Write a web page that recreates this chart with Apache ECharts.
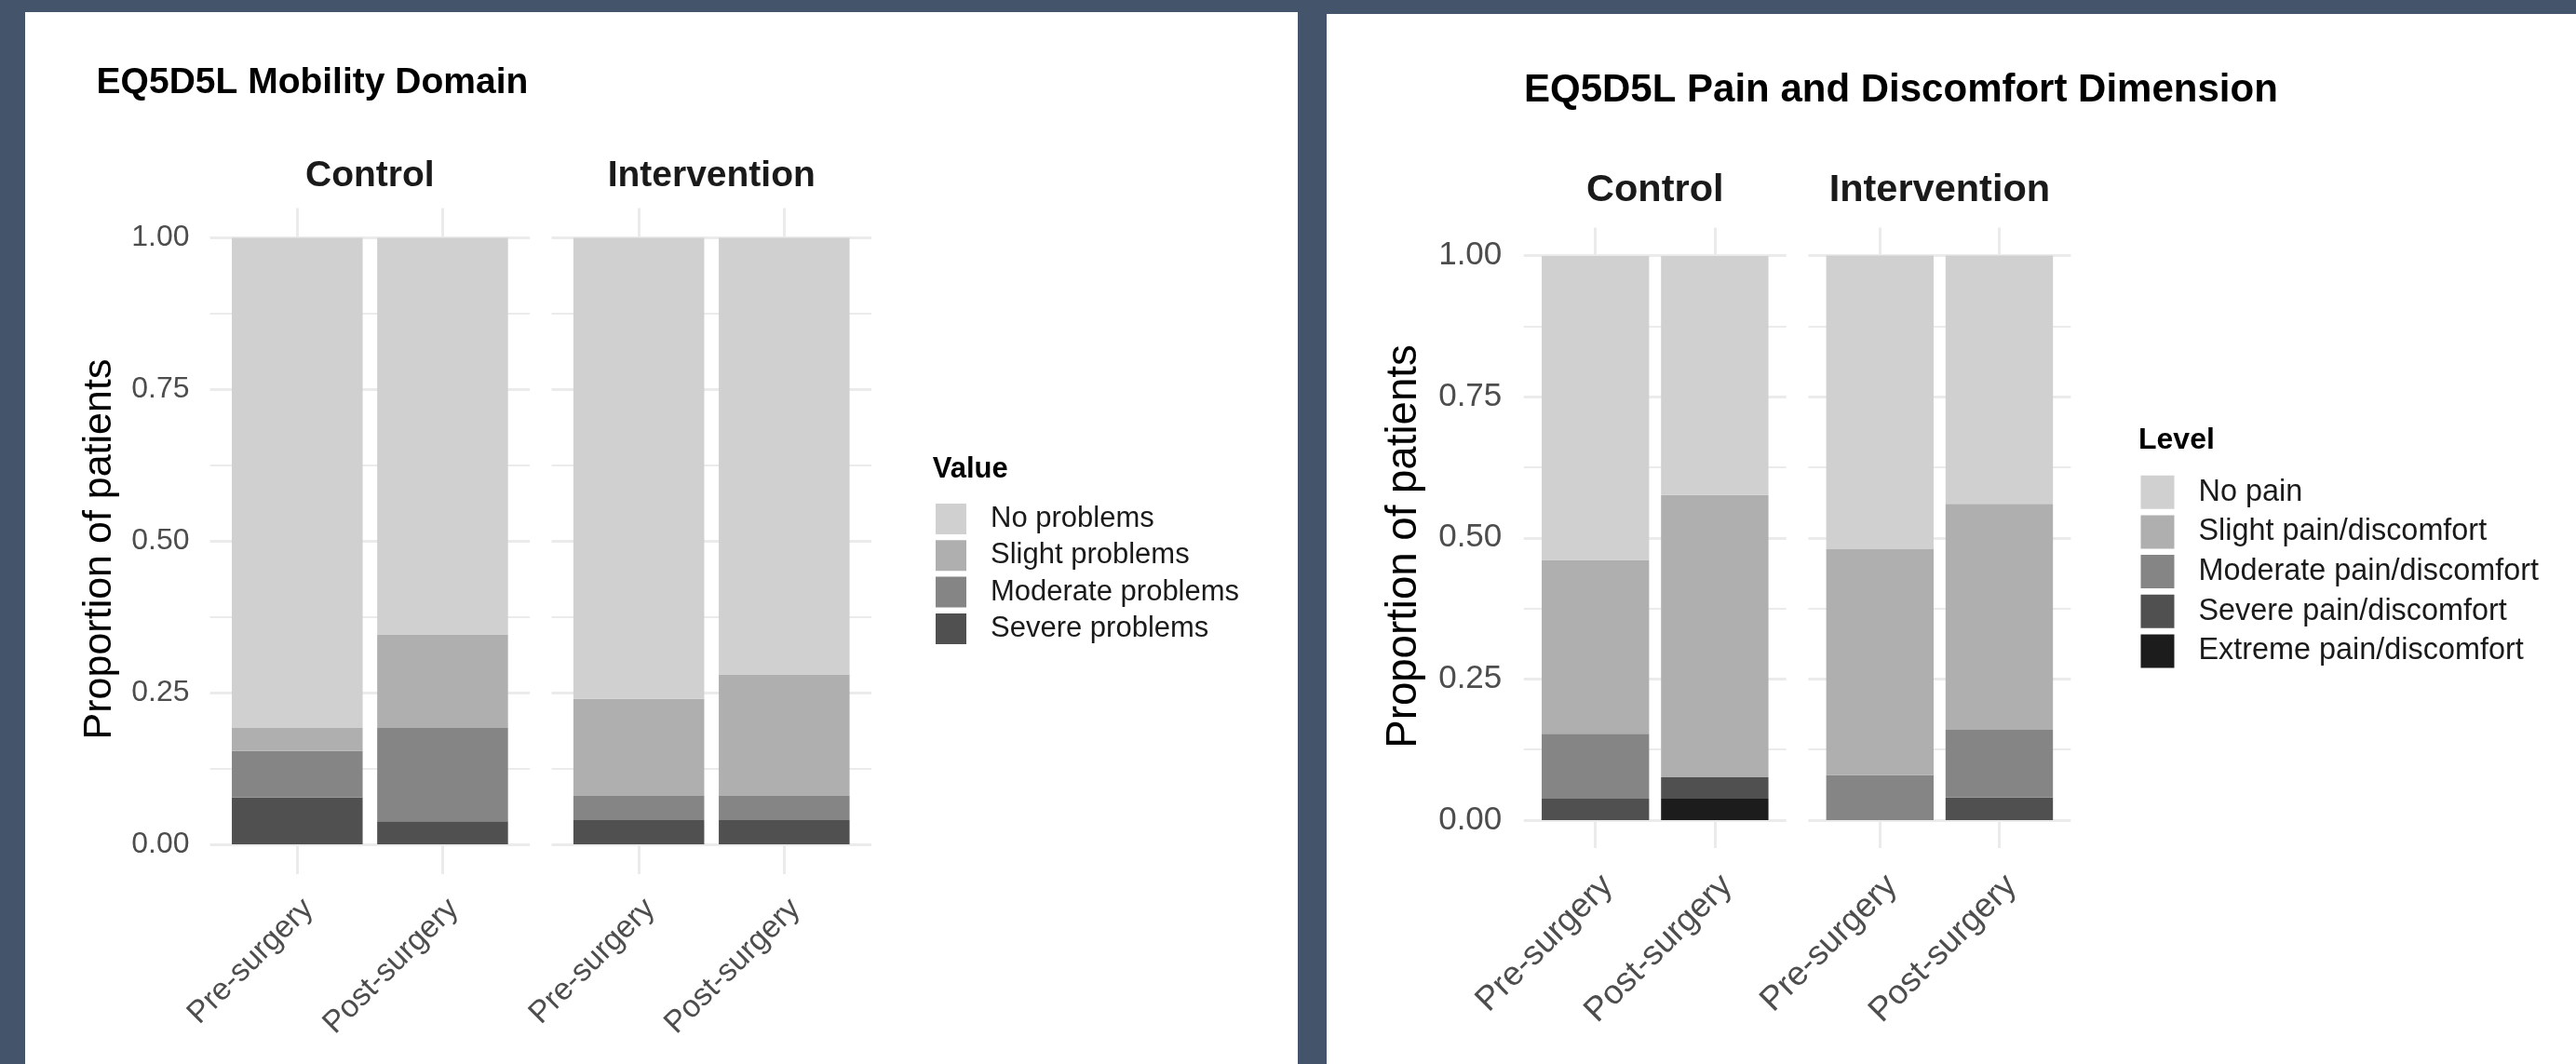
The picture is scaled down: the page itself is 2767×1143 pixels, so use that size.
<!DOCTYPE html>
<html><head><meta charset="utf-8">
<script src="https://cdn.jsdelivr.net/npm/echarts@6/dist/echarts.min.js"></script>
<style>
html,body{margin:0;padding:0;background:#44546A;width:2767px;height:1143px;overflow:hidden;}
#c1{position:absolute;left:27px;top:13px;width:1367px;height:1130px;background:#fff;}
#c2{position:absolute;left:1425px;top:15px;width:1342px;height:1128px;background:#fff;}
</style></head><body>
<div id="c1"></div><div id="c2"></div>
<script>
// ---------- data ----------
const facets = ['Control', 'Intervention'];
const timepoints = ['Pre-surgery', 'Post-surgery'];
const yTickLabels = ['0.00', '0.25', '0.50', '0.75', '1.00'];

// value order in each array: [Control Pre, Control Post, Intervention Pre, Intervention Post]
const mobilityLevels = ['No problems', 'Slight problems', 'Moderate problems', 'Severe problems'];
const mobNo       = [0.808, 0.654, 0.76, 0.72];
const mobSlight   = [0.038, 0.154, 0.16, 0.20];
const mobModerate = [0.077, 0.154, 0.04, 0.04];
const mobSevere   = [0.077, 0.038, 0.04, 0.04];

const painLevels = ['No pain', 'Slight pain/discomfort', 'Moderate pain/discomfort', 'Severe pain/discomfort', 'Extreme pain/discomfort'];
const painNo       = [0.538, 0.423, 0.52, 0.44];
const painSlight   = [0.308, 0.500, 0.40, 0.40];
const painModerate = [0.115, 0.000, 0.08, 0.12];
const painSevere   = [0.038, 0.038, 0.00, 0.04];
const painExtreme  = [0.000, 0.038, 0.00, 0.00];

const levelColors = ['#D0D0D0', '#AFAFAF', '#858585', '#505050', '#1C1C1C'];

// ---------- styling ----------
const FONT = '"Liberation Sans", Arial, Helvetica, sans-serif';
const GRID_COLOR = '#EBEBEB';
const TICK_COLOR = '#4D4D4D';

function txt(x, y, text, size, weight, color, align, rotation) {
  return {type: 'text', x: x, y: y, rotation: rotation || 0, silent: true,
    style: {text: text, fontSize: size, fontWeight: weight, fontFamily: FONT, fill: color,
      align: align, verticalAlign: 'middle', textAlign: align, textVerticalAlign: 'middle'}};
}

function buildOption(cfg) {
  const grid = [], xAxis = [], yAxis = [], series = [];
  facets.forEach(function (f, k) {
    const unit = cfg.panelW / 2.2;
    const left = cfg.panelLefts[k];
    grid.push({left: left, top: cfg.top, width: cfg.panelW, height: cfg.height});
    grid.push({left: left + 0.1 * unit, top: cfg.top, width: 2 * unit, height: cfg.height});
    const tick = {show: true, alignWithLabel: true, length: cfg.stub, lineStyle: {color: GRID_COLOR, width: 3}};
    xAxis.push({gridIndex: 2 * k, type: 'category', data: timepoints, show: false});
    xAxis.push({gridIndex: 2 * k + 1, type: 'category', data: timepoints, position: 'bottom',
      axisLine: {show: false}, axisTick: tick, splitLine: {show: false},
      axisLabel: {interval: 0, rotate: 45, align: 'right', verticalAlign: 'top', margin: cfg.xMargin,
        fontSize: cfg.xFont, color: TICK_COLOR, fontFamily: FONT}});
    xAxis.push({gridIndex: 2 * k + 1, type: 'category', data: timepoints, position: 'top',
      axisLine: {show: false}, axisTick: tick, splitLine: {show: false}, axisLabel: {show: false}});
    yAxis.push({gridIndex: 2 * k, type: 'value', min: 0, max: 1, interval: 0.25,
      axisLine: {show: false}, axisTick: {show: false},
      axisLabel: {show: k === 0, margin: cfg.yMargin, fontSize: cfg.yFont, color: TICK_COLOR, fontFamily: FONT,
        formatter: function (v) { return yTickLabels[Math.round(v / 0.25)]; }},
      splitLine: {show: true, lineStyle: {color: GRID_COLOR, width: 3}},
      minorTick: {show: false, splitNumber: 2},
      minorSplitLine: {show: true, lineStyle: {color: GRID_COLOR, width: 2}}});
    yAxis.push({gridIndex: 2 * k + 1, type: 'value', min: 0, max: 1, show: false});
    for (let i = cfg.levels.length - 1; i >= 0; i--) {
      series.push({name: cfg.levels[i], type: 'bar', xAxisIndex: 3 * k + 1, yAxisIndex: 2 * k + 1,
        stack: 's' + k, barWidth: '90%', silent: true,
        data: [cfg.values[i][2 * k], cfg.values[i][2 * k + 1]],
        itemStyle: {color: levelColors[i]}});
    }
  });
  const g = [
    txt(cfg.titleX, cfg.titleY, cfg.title, cfg.titleFont, 'bold', '#000', 'left'),
    txt(cfg.panelLefts[0] + cfg.panelW / 2, cfg.stripY, facets[0], cfg.stripFont, 'bold', '#1A1A1A', 'center'),
    txt(cfg.panelLefts[1] + cfg.panelW / 2, cfg.stripY, facets[1], cfg.stripFont, 'bold', '#1A1A1A', 'center'),
    txt(cfg.yTitleX, cfg.yTitleY, 'Proportion of patients', cfg.yTitleFont, 'normal', '#000', 'center', Math.PI / 2),
    txt(cfg.legTitleX, cfg.legTitleY, cfg.legTitle, cfg.legTitleFont, 'bold', '#000', 'left')
  ];
  return {
    animation: false,
    textStyle: {fontFamily: FONT},
    grid: grid, xAxis: xAxis, yAxis: yAxis, series: series,
    legend: {orient: 'vertical', left: cfg.legLeft, top: cfg.legTop, padding: 0,
      itemWidth: cfg.key, itemHeight: cfg.key, itemGap: cfg.keyGap, icon: 'rect',
      selectedMode: false, data: cfg.levels,
      textStyle: {fontSize: cfg.legFont, color: '#1A1A1A', fontFamily: FONT, padding: [0, 0, 0, 21]}},
    graphic: g
  };
}

const c1 = echarts.init(document.getElementById('c1'), null, {renderer: 'canvas'});
c1.setOption(buildOption({
  title: 'EQ5D5L Mobility Domain', titleX: 76.6, titleY: 76, titleFont: 39,
  stripY: 176.6, stripFont: 39,
  panelLefts: [198.6, 565.5], panelW: 343.5, top: 242.5, height: 651.5, stub: 32,
  yFont: 32, yMargin: 22, xFont: 33.5, xMargin: 52,
  yTitleX: 79.7, yTitleY: 577, yTitleFont: 43,
  levels: mobilityLevels, values: [mobNo, mobSlight, mobModerate, mobSevere],
  legTitle: 'Value', legTitleX: 974.7, legTitleY: 491.5, legTitleFont: 31,
  legLeft: 978, legTop: 528, key: 33, keyGap: 6.3, legFont: 31
}));

const c2 = echarts.init(document.getElementById('c2'), null, {renderer: 'canvas'});
c2.setOption(buildOption({
  title: 'EQ5D5L Pain and Discomfort Dimension', titleX: 212, titleY: 82, titleFont: 42,
  stripY: 190, stripFont: 41.5,
  panelLefts: [211.8, 517.4], panelW: 282, top: 259.5, height: 606.5, stub: 30,
  yFont: 35, yMargin: 23.5, xFont: 36.5, xMargin: 52,
  yTitleX: 83.3, yTitleY: 572, yTitleFont: 45.6,
  levels: painLevels, values: [painNo, painSlight, painModerate, painSevere, painExtreme],
  legTitle: 'Level', legTitleX: 872, legTitleY: 458, legTitleFont: 32,
  legLeft: 874.5, legTop: 495.7, key: 36, keyGap: 6.7, legFont: 32.4
}));
</script>
</body></html>
